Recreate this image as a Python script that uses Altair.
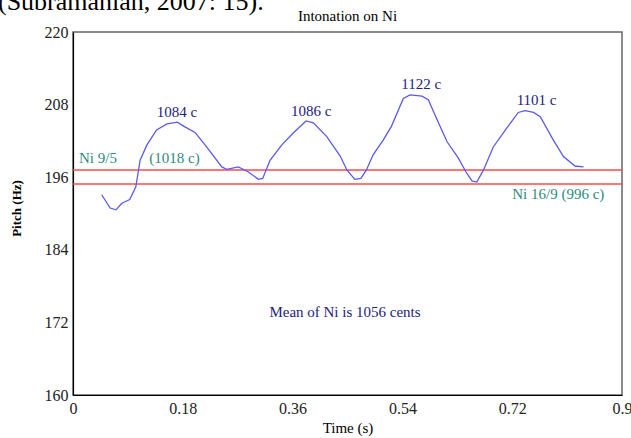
import altair as alt
import pandas as pd

SERIF = "Liberation Serif"

# Pitch contour of the note Ni (time in s, pitch in Hz)
time_s = [0.047, 0.061, 0.0705, 0.080, 0.093, 0.103, 0.110, 0.121, 0.137, 0.154,
          0.171, 0.182, 0.200, 0.219, 0.244, 0.252, 0.271, 0.287, 0.304, 0.311,
          0.323, 0.342, 0.361, 0.382, 0.394, 0.416, 0.438, 0.449, 0.462, 0.472,
          0.481, 0.492, 0.509, 0.522, 0.5415, 0.5525, 0.572, 0.5825, 0.596, 0.613,
          0.632, 0.644, 0.654, 0.662, 0.673, 0.689, 0.711, 0.730, 0.741, 0.755,
          0.766, 0.787, 0.804, 0.823, 0.837]
pitch_hz = [193.1, 190.9, 190.6, 191.7, 192.3, 194.4, 198.8, 201.3, 203.8, 204.8,
            205.1, 204.4, 203.4, 201.0, 197.7, 197.3, 197.7, 196.9, 195.65, 195.8,
            198.8, 201.3, 203.3, 205.3, 205.0, 202.7, 199.5, 197.2, 195.65, 195.8,
            197.2, 199.7, 202.2, 204.4, 209.0, 209.6, 209.4, 208.8, 205.7, 201.9,
            199.1, 196.9, 195.4, 195.2, 197.2, 201.0, 204.1, 206.7, 207.0, 206.7,
            206.0, 202.2, 199.4, 197.85, 197.7]

# Reference pitches of Ni 9/5 and Ni 16/9
ref_hz = [197.19, 194.88]

# Peak annotations (cents)
peak_text = ["1084 c", "1086 c", "1122 c", "1101 c"]
peak_t = [0.1705, 0.3905, 0.5708, 0.760]
peak_y = [206.83, 206.99, 211.35, 208.76]

# Reference-ratio annotations
ratio_text = ["Ni 9/5", "(1018 c)"]
ratio_t = [0.0098, 0.1251]
ratio_y = [199.12, 199.12]
low_text = ["Ni 16/9 (996 c)"]
low_t = [0.7956]
low_y = [193.17]

mean_text = ["Mean of Ni is 1056 cents"]
mean_t = [0.4459]
mean_y = [173.67]

x_ticks = [0, 0.18, 0.36, 0.54, 0.72, 0.9]
y_ticks = [160, 172, 184, 196, 208, 220]

PLOT_W = 549
PLOT_H = 363

curve = pd.DataFrame({"t": time_s, "f": pitch_hz})
refs = pd.DataFrame({"f": ref_hz})
peaks = pd.DataFrame({"t": peak_t, "f": peak_y, "label": peak_text})
ratios = pd.DataFrame({"t": ratio_t, "f": ratio_y, "label": ratio_text})
lows = pd.DataFrame({"t": low_t, "f": low_y, "label": low_text})
means = pd.DataFrame({"t": mean_t, "f": mean_y, "label": mean_text})

x_scale = alt.Scale(domain=[0, 0.9], nice=False, zero=False)
y_scale = alt.Scale(domain=[160, 220], nice=False, zero=False)

x_enc = alt.X("t:Q", scale=x_scale, title="Time (s)",
              axis=alt.Axis(values=x_ticks, format="~g", labelFlush=False))
y_enc = alt.Y("f:Q", scale=y_scale, title="Pitch (Hz)",
              axis=alt.Axis(values=y_ticks, titleY=176))

line = alt.Chart(curve).mark_line(color="#5a5af0", strokeWidth=1.3).encode(
    x=x_enc, y=y_enc
)

rules = alt.Chart(refs).mark_rule(color="#ff4a4a", strokeWidth=1.5).encode(
    y=alt.Y("f:Q", scale=y_scale)
)


def labels(df, color, align):
    return alt.Chart(df).mark_text(
        font=SERIF, fontSize=15, color=color, align=align, baseline="middle"
    ).encode(
        x=alt.X("t:Q", scale=x_scale),
        y=alt.Y("f:Q", scale=y_scale),
        text="label:N",
    )


peak_labels = labels(peaks, "#23237a", "center")
ratio_labels = labels(ratios, "#2f8a80", "left")
low_labels = labels(lows, "#2f8a80", "center")
mean_labels = labels(means, "#23237a", "center")

# Chart heading, centred over the plot
heading = alt.Chart(pd.DataFrame({"label": ["Intonation on Ni"]})).mark_text(
    font=SERIF, fontSize=15, color="black", align="center", baseline="alphabetic"
).encode(x=alt.value(PLOT_W / 2), y=alt.value(-11), text="label:N")

# Citation line of the surrounding text, running off the top edge
citation = alt.Chart(pd.DataFrame({"label": ["(Subramanian, 2007: 15)."]})).mark_text(
    font=SERIF, fontSize=26, color="black", align="left", baseline="alphabetic"
).encode(x=alt.value(-75), y=alt.value(-22), text="label:N")

chart = alt.layer(
    rules, line, peak_labels, ratio_labels, low_labels, mean_labels, heading, citation
).properties(
    width=PLOT_W,
    height=PLOT_H,
    padding={"left": 73, "top": 32, "right": 9, "bottom": 43},
    autosize=alt.AutoSizeParams(type="none"),
).configure_view(
    stroke="#666666", strokeWidth=1.5
).configure_axis(
    domainColor="black", domainWidth=1.2, grid=False, ticks=False,
    labelFont=SERIF, labelFontSize=16, labelColor="#222222", labelPadding=5,
    titleFont=SERIF, titleColor="black",
).configure_axisX(
    titleFontSize=15, titleFontWeight="normal", titlePadding=4
).configure_axisY(
    titleFontSize=13, titleFontWeight="bold", titlePadding=21
)

chart.save("out.html", embed_options={"renderer": "svg", "actions": False})
